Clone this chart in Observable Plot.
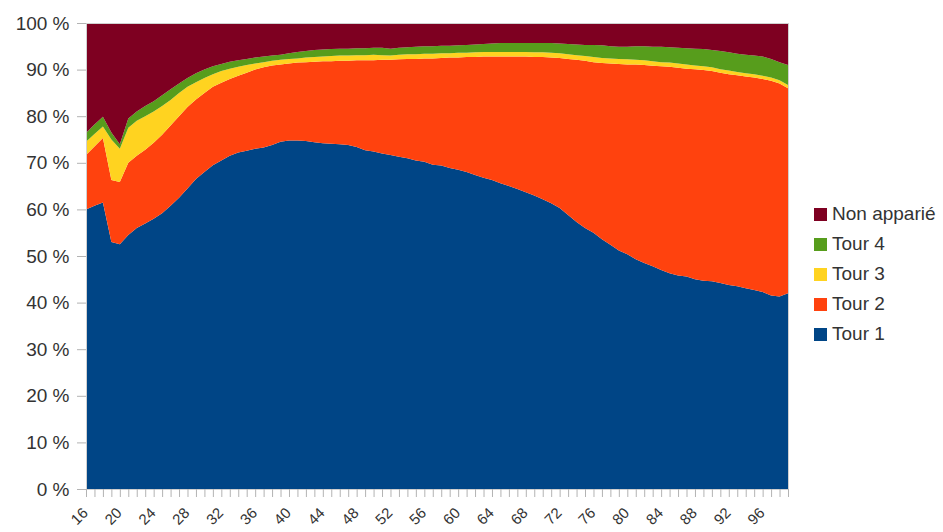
<!DOCTYPE html>
<html>
<head>
<meta charset="utf-8">
<script src="https://cdn.jsdelivr.net/npm/d3@7"></script>
<script src="https://cdn.jsdelivr.net/npm/@observablehq/plot@0.6"></script>
<style>
  html, body { margin: 0; padding: 0; background: #fff; }
  #wrap { position: relative; width: 943px; height: 532px; font-family: "Liberation Sans", Arial, sans-serif; }
  #legend { position: absolute; left: 814px; top: 199px; }
  .item { display: flex; align-items: center; height: 30px; font-size: 19px; color: #333; white-space: nowrap; }
  .sw { width: 13px; height: 13px; margin-right: 5px; }
</style>
</head>
<body>
<div id="wrap"><div id="chart"></div><div id="legend"></div></div>
<script>
// Ages (x categories)
const ages = d3.range(16, 100);
const xLabelTicks = d3.range(16, 100, 4);
const yTicks = [0, 10, 20, 30, 40, 50, 60, 70, 80, 90, 100];

// Series names (bottom to top) and colours
const seriesNames = ["Tour 1", "Tour 2", "Tour 3", "Tour 4", "Non apparié"];
const seriesColors = ["#004586", "#ff420e", "#ffd320", "#579d1c", "#7e0021"];

// Cumulative upper edge (%) of each band, ages 16..99
const edgeTour1 = [60.0,60.8,61.5,53.0,52.5,54.5,56.0,57.0,58.0,59.2,60.8,62.5,64.5,66.5,68.0,69.5,70.5,71.5,72.2,72.6,
  73.0,73.3,73.8,74.5,74.8,74.8,74.7,74.4,74.2,74.1,74.0,73.8,73.4,72.7,72.4,72.0,71.7,71.3,71.0,70.5,
  70.2,69.6,69.4,68.9,68.5,68.0,67.4,66.8,66.3,65.6,65.0,64.4,63.7,63.0,62.2,61.3,60.3,58.8,57.3,56.0,
  55.0,53.6,52.4,51.2,50.4,49.3,48.5,47.8,47.0,46.3,45.8,45.6,45.0,44.7,44.6,44.2,43.8,43.5,43.1,42.7,
  42.3,41.5,41.3,42.0];
const edgeTour2 = [71.7,73.5,75.3,66.3,65.9,70.0,71.5,72.8,74.3,76.0,78.0,80.0,82.0,83.6,85.0,86.3,87.2,88.0,88.7,89.3,
  90.0,90.5,90.9,91.1,91.3,91.5,91.6,91.7,91.8,91.8,91.9,91.9,92.0,92.0,92.0,92.1,92.1,92.2,92.3,92.3,
  92.4,92.4,92.5,92.6,92.6,92.7,92.7,92.8,92.8,92.8,92.8,92.8,92.8,92.7,92.7,92.6,92.5,92.3,92.1,91.9,
  91.6,91.4,91.3,91.2,91.1,91.1,91.0,90.8,90.7,90.6,90.4,90.2,90.1,89.9,89.7,89.3,89.0,88.8,88.5,88.3,
  88.0,87.6,87.0,86.0];
const edgeTour3 = [74.5,76.2,77.8,75.0,73.0,77.5,79.0,80.0,81.0,82.2,83.5,85.0,86.3,87.3,88.2,89.0,89.7,90.2,90.6,91.0,
  91.3,91.6,91.9,92.1,92.3,92.4,92.6,92.7,92.8,92.9,93.0,93.0,93.1,93.1,93.2,93.1,93.0,93.2,93.3,93.3,
  93.4,93.4,93.5,93.5,93.6,93.6,93.7,93.8,93.8,93.8,93.8,93.8,93.8,93.7,93.7,93.6,93.5,93.3,93.1,92.9,
  92.7,92.5,92.4,92.3,92.2,92.1,92.0,91.8,91.6,91.5,91.3,91.1,90.9,90.7,90.5,90.1,89.8,89.5,89.2,89.0,
  88.7,88.3,87.7,86.7];
const edgeTour4 = [76.4,78.2,79.9,76.5,74.0,79.5,81.0,82.2,83.2,84.5,85.8,87.0,88.2,89.2,90.0,90.7,91.2,91.7,92.0,92.3,
  92.6,92.8,93.0,93.2,93.5,93.8,94.0,94.2,94.3,94.4,94.5,94.5,94.6,94.6,94.7,94.7,94.5,94.7,94.8,94.9,
  95.0,95.0,95.1,95.1,95.2,95.3,95.4,95.5,95.6,95.7,95.7,95.7,95.7,95.7,95.7,95.7,95.6,95.5,95.4,95.3,
  95.3,95.2,95.0,94.9,94.9,95.0,95.0,94.9,94.9,94.8,94.7,94.6,94.5,94.4,94.2,94.0,93.7,93.4,93.2,93.0,
  92.8,92.3,91.6,91.0];
const edgeTotal = 100;

// Build long table of band shares for Plot's stacking
const edges = [edgeTour1, edgeTour2, edgeTour3, edgeTour4, ages.map(() => edgeTotal)];
const rows = [];
seriesNames.forEach((name, s) => {
  ages.forEach((age, i) => {
    const lower = s === 0 ? 0 : edges[s - 1][i];
    rows.push({ age, series: name, value: edges[s][i] - lower });
  });
});

const chart = Plot.plot({
  width: 943,
  height: 532,
  marginLeft: 86,
  marginRight: 155,
  marginTop: 23,
  marginBottom: 43,
  style: { fontFamily: "Liberation Sans, Arial, sans-serif", color: "#333", background: "#fff" },
  x: { domain: [16, 99] },
  y: { domain: [0, 100] },
  color: { domain: seriesNames, range: seriesColors },
  marks: [
    Plot.areaY(rows, { x: "age", y: "value", z: "series", fill: "series", order: seriesNames }),
    Plot.frame({ stroke: "#d0d0d0" }),
    Plot.axisY({ ticks: yTicks, tickFormat: d => d + " %", tickSize: 9, tickPadding: 8, stroke: "#b3b3b3", fontSize: 19, label: null }),
    Plot.axisX({ ticks: ages, tickFormat: () => "", tickSize: 8, stroke: "#b3b3b3", label: null }),
    Plot.axisX({ ticks: xLabelTicks, tickSize: 0, tickPadding: 21, dx: -1, tickRotate: -45, fontSize: 15, label: null })
  ]
});
document.getElementById("chart").appendChild(chart);

const legend = document.getElementById("legend");
seriesNames.slice().reverse().forEach((name) => {
  const i = seriesNames.indexOf(name);
  const it = document.createElement("div");
  it.className = "item";
  it.innerHTML = `<span class="sw" style="background:${seriesColors[i]}"></span><span>${name}</span>`;
  legend.appendChild(it);
});
</script>
</body>
</html>
